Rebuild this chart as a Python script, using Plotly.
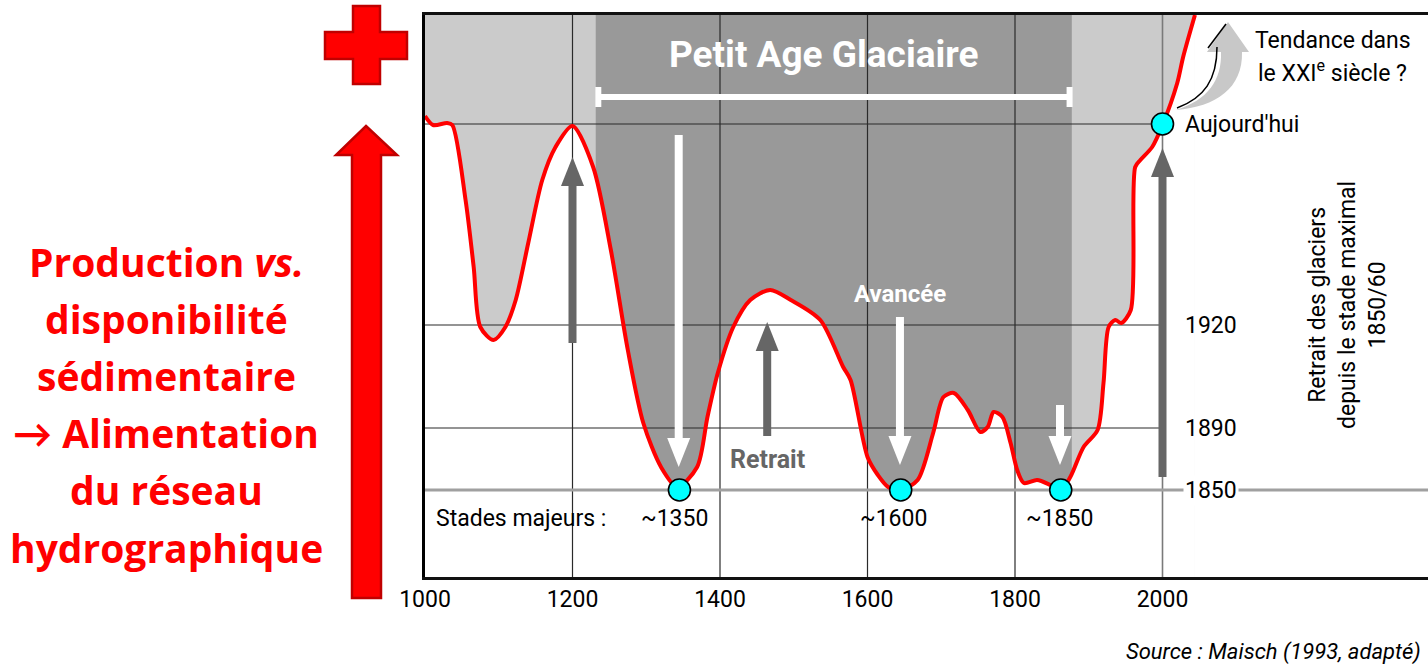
import plotly.graph_objects as go

# ---------------- data ----------------
years = [1000, 1011, 1030, 1037, 1055, 1066, 1075, 1093, 1109, 1123, 1140, 1159, 1177, 1200,
         1228, 1252, 1275, 1296, 1320, 1342, 1369, 1383, 1397, 1418, 1441, 1468, 1496, 1536,
         1567, 1577, 1600, 1614, 1628, 1645, 1668, 1689, 1703, 1717, 1736, 1753, 1763, 1771,
         1783, 1794, 1803, 1812, 1830, 1848, 1862, 1875, 1893, 1912, 1920, 1927, 1936, 1944,
         1957, 1963, 1970, 1986, 2000, 2020, 2028, 2044]
retreat = [461, 452, 454, 452, 377, 310, 250, 237, 250, 277, 334, 397, 430, 451,
           410, 327, 227, 154, 110, 90, 110, 160, 204, 250, 277, 287, 277, 257,
           210, 197, 120, 102, 90, 87, 97, 144, 180, 184, 167, 145, 150, 165,
           160, 134, 107, 94, 97, 92, 87, 100, 130, 147, 194, 250, 257, 254,
           267, 410, 417, 430, 452, 494, 520, 562]

stage_years = [1345, 1645, 1862, 2000]
stage_values = [87, 87, 87, 453]
stage_labels = ["~1350", "~1600", "~1850"]
stage_label_years = [1338, 1635, 1860]

x_ticks = [1000, 1200, 1400, 1600, 1800, 2000]
x_tick_labels = ["1000", "1200", "1400", "1600", "1800", "2000"]
level_values = [87, 149, 252, 453]
level_labels = ["1850", "1890", "1920", "Aujourd'hui"]

lia_start, lia_end = 1235, 1874          # Petit Age Glaciaire bar
dark_band = [1231.5, 1877]               # dark grey band
light_band = [1000, 2044]                # light grey band

up_arrow_years = [1200, 1464, 2000]
up_arrow_from = [234, 141, 100]
up_arrow_to = [420, 255, 429]
down_arrow_years = [1344, 1644, 1861]
down_arrow_from = [442, 260, 172]
down_arrow_to = [110, 112, 112]

X_MIN, X_MAX = 1000, 2360
Y_MIN, Y_MAX = 0, 562

# ---------------- helpers (pixel -> paper) ----------------
L_M, T_M, W, H = 425, 15, 1428, 667
PW, PH = W - L_M, 577 - T_M


def X(px):
    return (px - L_M) / PW


def Y(py):
    return (577 - py) / PH


def ppath(cmds):
    out = []
    for c in cmds:
        if c[0] == 'Z':
            out.append('Z')
        else:
            pts = " ".join(f"{X(p[0]):.5f},{Y(p[1]):.5f}" for p in c[1:])
            out.append(f"{c[0]} {pts}")
    return " ".join(out)


PX_PER_YEAR = PW / (X_MAX - X_MIN)

fig = go.Figure()

# grey bands
shapes = [
    dict(type="rect", xref="x", yref="y", x0=light_band[0], x1=light_band[1], y0=Y_MIN, y1=Y_MAX,
         fillcolor="#cbcbcb", line_width=0, layer="below"),
    dict(type="rect", xref="x", yref="y", x0=dark_band[0], x1=dark_band[1], y0=Y_MIN, y1=Y_MAX,
         fillcolor="#999999", line_width=0, layer="below"),
]

# white area under the curve
fig.add_trace(go.Scatter(x=years, y=retreat, mode="lines", fill="tozeroy",
                         fillcolor="white", line=dict(width=0, shape="spline", smoothing=0.8),
                         hoverinfo="skip", showlegend=False))

# grid lines (drawn as traces so they appear above the fills)
gx, gy = [], []
for v in x_ticks[1:-1]:
    gx += [v, v, None]
    gy += [Y_MIN, Y_MAX, None]
for v in level_values[1:]:
    gx += [X_MIN, x_ticks[-1], None]
    gy += [v, v, None]
fig.add_trace(go.Scatter(x=gx, y=gy, mode="lines", line=dict(color="#2a2a2a", width=1.2),
                         hoverinfo="skip", showlegend=False))
fig.add_trace(go.Scatter(x=[x_ticks[-1], x_ticks[-1]], y=[Y_MIN, Y_MAX], mode="lines",
                         line=dict(color="#7a7a7a", width=1.6), hoverinfo="skip", showlegend=False))
fig.add_trace(go.Scatter(x=[X_MIN, X_MAX], y=[level_values[0]] * 2, mode="lines",
                         line=dict(color="#a0a0a0", width=3), hoverinfo="skip", showlegend=False))

# red curve
fig.add_trace(go.Scatter(x=years, y=retreat, mode="lines",
                         line=dict(color="#ff0000", width=4, shape="spline", smoothing=0.8),
                         hoverinfo="skip", showlegend=False))

# stage markers
fig.add_trace(go.Scatter(x=stage_years, y=stage_values, mode="markers",
                         marker=dict(size=22, color="#00ffff", line=dict(color="black", width=1.6)),
                         hoverinfo="skip", showlegend=False))

# arrows
HEAD_LEN = 29
HEAD_HW = 11.5 / PX_PER_YEAR


def arrow(xv, y_from, y_to, color):
    sign = 1 if y_to > y_from else -1
    base = y_to - sign * HEAD_LEN
    shapes.append(dict(type="line", xref="x", yref="y", x0=xv, x1=xv, y0=y_from, y1=base,
                       line=dict(color=color, width=8), layer="above"))
    shapes.append(dict(type="path", xref="x", yref="y",
                       path=f"M {xv - HEAD_HW},{base} L {xv + HEAD_HW},{base} L {xv},{y_to} Z",
                       fillcolor=color, line_width=0, layer="above"))


for xv, a, b in zip(up_arrow_years, up_arrow_from, up_arrow_to):
    arrow(xv, a, b, "#666666")
for xv, a, b in zip(down_arrow_years, down_arrow_from, down_arrow_to):
    arrow(xv, a, b, "#ffffff")

# Petit Age Glaciaire bar
bar_y = 577 - 97
shapes.append(dict(type="line", xref="x", yref="y", x0=lia_start, x1=lia_end, y0=bar_y, y1=bar_y,
                   line=dict(color="white", width=6), layer="above"))
for xv in (lia_start, lia_end):
    shapes.append(dict(type="line", xref="x", yref="y", x0=xv, x1=xv, y0=bar_y - 10, y1=bar_y + 10,
                       line=dict(color="white", width=6), layer="above"))

# curved "tendance" arrow
shapes.append(dict(type="path", xref="paper", yref="paper", layer="above",
                   path=ppath([('M', (1176, 110)), ('C', (1208, 100), (1222, 80), (1221, 52)),
                               ('L', (1207, 52)), ('L', (1228, 22)), ('L', (1249, 52)), ('L', (1242, 52)),
                               ('C', (1243, 88), (1216, 107), (1176, 110)), ('Z',)]),
                   fillcolor="#c8c8c8", line_width=0))
shapes.append(dict(type="path", xref="paper", yref="paper", layer="above",
                   path=ppath([('M', (1177, 108)), ('C', (1204, 98), (1217, 80), (1217, 47))]),
                   line=dict(color="black", width=1.5)))
shapes.append(dict(type="path", xref="paper", yref="paper", layer="above",
                   path=ppath([('M', (1208, 48)), ('L', (1226, 24))]),
                   line=dict(color="black", width=1.5)))

# left red cross and arrow
shapes.append(dict(type="path", xref="paper", yref="paper", layer="above",
                   path=ppath([('M', (353, 6)), ('L', (380, 6)), ('L', (380, 32)), ('L', (407, 32)),
                               ('L', (407, 59)), ('L', (380, 59)), ('L', (380, 84)), ('L', (353, 84)),
                               ('L', (353, 59)), ('L', (325, 59)), ('L', (325, 32)), ('L', (353, 32)), ('Z',)]),
                   fillcolor="#ff0000", line=dict(color="#c00000", width=2.5)))
shapes.append(dict(type="path", xref="paper", yref="paper", layer="above",
                   path=ppath([('M', (366, 126)), ('L', (397, 155)), ('L', (381, 155)), ('L', (381, 598)),
                               ('L', (352, 598)), ('L', (352, 155)), ('L', (336, 155)), ('Z',)]),
                   fillcolor="#ff0000", line=dict(color="#c00000", width=2.5)))

# ---------------- annotations ----------------
ann = []
BASE = "Roboto, 'Liberation Sans', sans-serif"


def text(px, py, s, size=23, color="black", xanchor="center", bold=False, family=BASE, **kw):
    ann.append(dict(xref="paper", yref="paper", x=X(px), y=Y(py), text=f"<b>{s}</b>" if bold else s,
                    showarrow=False, xanchor=xanchor, yanchor="middle",
                    font=dict(size=size, color=color, family=family), **kw))


text(823, 54, "Petit Age Glaciaire", size=37, color="white", bold=True)
text(900, 294, "Avancée", size=24, color="white", bold=True)
text(767, 460, "Retrait", size=25, color="#666666", bold=True)
text(434, 518, "Stades majeurs :", size=23, xanchor="left")
for lab, yr in zip(stage_labels, stage_label_years):
    ann.append(dict(xref="x", yref="paper", x=yr, y=Y(518), text=lab, showarrow=False,
                    xanchor="center", yanchor="middle", font=dict(size=23, color="black", family=BASE)))
for v, lab in zip(level_values, level_labels):
    ann.append(dict(xref="paper", yref="y", x=X(1183), y=v, text=lab, showarrow=False,
                    xanchor="left", yanchor="middle", bgcolor="white" if lab == "1850" else None,
                    borderpad=1, font=dict(size=23, color="black", family=BASE)))
text(1253, 41, "Tendance dans", size=23, xanchor="left")
text(1256, 71, "le XXI<sup>e</sup> siècle ?", size=23, xanchor="left")
ann.append(dict(xref="paper", yref="paper", x=X(1347), y=Y(305),
                text="Retrait des glaciers<br>depuis le stade maximal<br>1850/60",
                showarrow=False, textangle=-90, xanchor="center", yanchor="middle",
                font=dict(size=23, color="black", family=BASE)))
text(1423, 652, "<i>Source : Maisch (1993, adapté)</i>", size=22, xanchor="right")

RED_FONT = "'Open Sans', Lato, sans-serif"
left_lines = ["Production <i>vs.</i>", "disponibilité", "sédimentaire", "→ Alimentation",
              "du réseau", "hydrographique"]
for i, s in enumerate(left_lines):
    text(166, 261 + 57.2 * i, s, size=39, color="#ff0000", bold=True, family=RED_FONT)

fig.update_layout(
    width=W, height=H, autosize=False,
    margin=dict(l=L_M, r=0, t=T_M, b=H - 577, pad=0),
    plot_bgcolor="white", paper_bgcolor="white",
    shapes=shapes, annotations=ann, showlegend=False,
    xaxis=dict(range=[X_MIN, X_MAX], tickvals=x_ticks, ticktext=x_tick_labels,
               showgrid=False, zeroline=False, showline=True, linecolor="#111111", linewidth=2.5,
               mirror=True, ticks="", ticklen=0, ticklabelstandoff=0,
               tickfont=dict(size=23, color="black", family=BASE)),
    yaxis=dict(range=[Y_MIN, Y_MAX], showgrid=False, zeroline=False, showticklabels=False,
               showline=True, linecolor="black", linewidth=3, ticks=""),
)

fig.write_html("out.html", config={"displayModeBar": False},
               post_script="document.body.style.margin='0px';")
